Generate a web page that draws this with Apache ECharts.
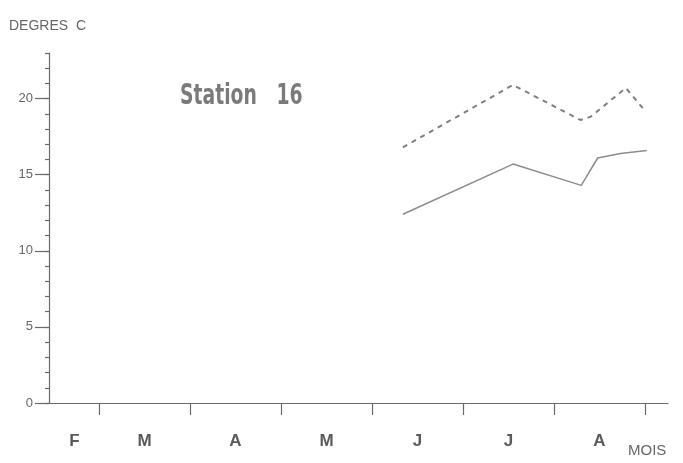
<!DOCTYPE html>
<html>
<head>
<meta charset="utf-8">
<script src="https://cdn.jsdelivr.net/npm/echarts@6/dist/echarts.min.js"></script>
<style>html,body{margin:0;padding:0;background:#fff}#c{width:683px;height:463px}</style>
</head>
<body>
<div id="c"></div>
<script>
// Month labels (x axis) and tick months
const monthLabels = ['F', 'M', 'A', 'M', 'J', 'J', 'A'];
const monthLabelPos = [1.73, 2.5, 3.5, 4.5, 5.5, 6.5, 7.5];
const monthTicks = [2, 3, 4, 5, 6, 7, 8];
const yTickLabels = [0, 5, 10, 15, 20];

// Time in months (2 = start of March) and temperatures (°C)
const upperX = [5.34, 6.55, 7.29, 7.40, 7.79, 8.00];
const upperY = [16.8, 20.9, 18.6, 18.8, 20.7, 19.2];
const lowerX = [5.34, 6.55, 7.30, 7.48, 7.73, 8.02];
const lowerY = [12.4, 15.7, 14.3, 16.1, 16.4, 16.6];

const zip = (a, b) => a.map((v, i) => [v, b[i]]);
const grey = '#6a6a6a';

const chart = echarts.init(document.getElementById('c'));
chart.setOption({
  animation: false,
  backgroundColor: '#fff',
  grid: { left: 49, right: 15, top: 53, bottom: 60 },
  xAxis: {
    type: 'value', min: 1.451, max: 8.253,
    axisLine: { show: true, lineStyle: { color: grey, width: 1.2 } },
    axisTick: { show: true, length: 12, customValues: monthTicks, lineStyle: { color: grey, width: 1.2 } },
    axisLabel: {
      customValues: monthLabelPos, margin: 30,
      formatter: v => { const i = monthLabelPos.findIndex(p => Math.abs(p - v) < 1e-6); return i >= 0 ? monthLabels[i] : ''; },
      color: '#5a5a5a', fontSize: 17, fontWeight: 'bold', fontFamily: 'Liberation Sans'
    },
    splitLine: { show: false },
    name: 'MOIS', nameLocation: 'end', nameGap: -40,
    nameTextStyle: { color: '#666', fontSize: 15, fontFamily: 'Liberation Sans', verticalAlign: 'top', padding: [40, 0, 0, 0] }
  },
  yAxis: [{
    type: 'value', min: 0, max: 23, interval: 1,
    axisLine: { show: true, lineStyle: { color: grey, width: 1.2 } },
    axisTick: { show: true, length: 4, lineStyle: { color: grey, width: 1.2 } },
    axisLabel: { show: false },
    splitLine: { show: false },
    name: 'DEGRES  C', nameLocation: 'end', nameGap: 20,
    nameTextStyle: { color: '#666', fontSize: 14, fontFamily: 'Liberation Sans', align: 'left', padding: [0, 0, 0, -40] }
  }, {
    type: 'value', min: 0, max: 23, interval: 5, position: 'left',
    axisLine: { show: false },
    axisTick: { show: true, length: 14, customValues: yTickLabels, lineStyle: { color: grey, width: 1.2 } },
    axisLabel: { customValues: yTickLabels, margin: 16, color: '#666', fontSize: 13, fontFamily: 'Liberation Sans' },
    splitLine: { show: false }
  }],
  graphic: [{
    type: 'text', left: 180, top: 82, scaleX: 0.72,
    style: { text: 'Station   16', fill: '#7a7a7a', font: 'bold 29px "DejaVu Sans Condensed", "DejaVu Sans"' }
  }],
  series: [{
    type: 'line', data: zip(upperX, upperY), showSymbol: false, symbol: 'none',
    lineStyle: { color: '#808080', width: 2, type: [5, 5] }
  }, {
    type: 'line', data: zip(lowerX, lowerY), showSymbol: false, symbol: 'none',
    lineStyle: { color: '#8c8c8c', width: 1.5 }
  }]
});
</script>
</body>
</html>
